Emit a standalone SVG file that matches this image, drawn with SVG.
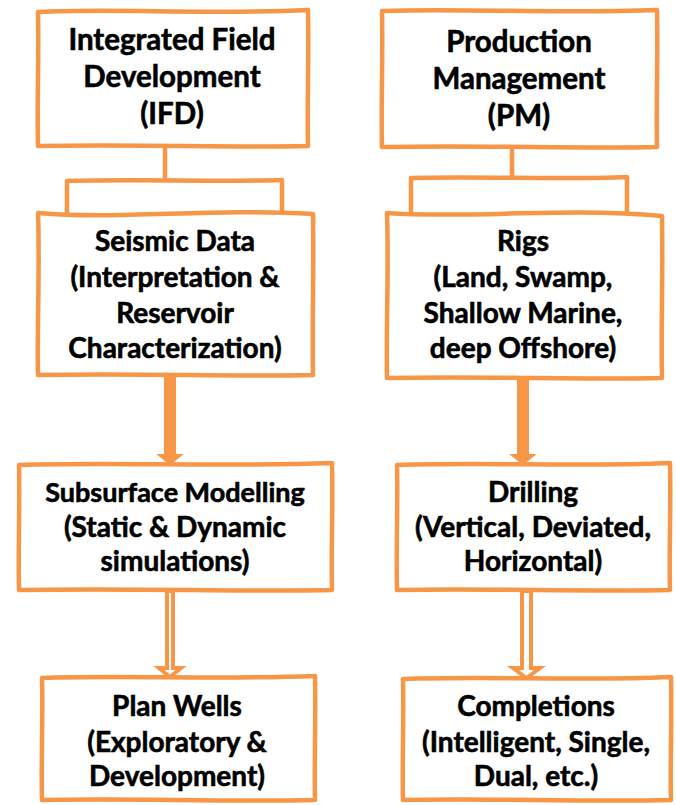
<svg xmlns="http://www.w3.org/2000/svg" width="676" height="805" viewBox="0 0 676 805">
<style>
.box{fill:#fff;stroke:#F79646;stroke-width:4.5;stroke-linejoin:round}
.tab{fill:#fff;stroke:#F79646;stroke-width:4.5;stroke-linejoin:round}
.ln{fill:none;stroke:#F79646;stroke-width:4.5}
.solid{fill:#F79646;stroke:#F79646;stroke-width:2;stroke-linejoin:miter}
.hollow{fill:#fff;stroke:#F79646;stroke-width:4;stroke-linejoin:miter}
.t{font-family:Lato,"Liberation Sans",sans-serif;font-weight:700;font-size:28px;text-anchor:middle;fill:#000;stroke:#000;stroke-width:0.6}
.big{font-size:29.5px}
</style>
<rect width="676" height="805" fill="#fff"/>
<g id="connectors">
<path class="ln" d="M165,146 L165,182"/>
<path class="ln" d="M512,147 L512,179"/>
<path class="solid" d="M165,376 L175,376 L175,455 L181,455 L170,464 L159,455 L165,455 Z"/>
<path class="solid" d="M518,379 L528,379 L528,455 L534,455 L523,464 L512,455 L518,455 Z"/>
<path class="hollow" d="M167,591 L173,591 L173,668 L181,668 L170,677 L159,668 L167,668 Z"/>
<path class="hollow" d="M522,591 L531,591 L531,668 L540,668 L526.5,678 L513,668 L522,668 Z"/>
</g>
<g id="ifd">
<path class="box" d="M38,12 C119,8 200,15 308,10 C309,64 307,105 308,146 C227,148 146,144 38,146 C37,105 39,52 38,12 Z"/>
<text class="t big" x="172" y="50">Integrated Field</text>
<text class="t big" x="172" y="87">Development</text>
<text class="t big" x="172" y="124">(IFD)</text>
</g>
<g id="pm">
<path class="box" d="M382,11 C465,8 548,14 657,10 C658,64 656,106 657,147 C574,149 491,145 382,147 C381,105 383,54 382,11 Z"/>
<text class="t big" x="519" y="52">Production</text>
<text class="t big" x="519" y="89">Management</text>
<text class="t big" x="519" y="126">(PM)</text>
</g>
<g id="seismic">
<path class="tab" d="M67,216 L67,181 C140,179 210,182 282,180 L282,214"/>
<path class="box" d="M38,213 C120,220 210,208 313,214 C314,278 312,320 313,375 C230,377 148,373 38,375 C37,320 40,270 38,213 Z"/>
<text class="t" x="175" y="251">Seismic Data</text>
<text class="t" x="175" y="287">(Interpretation &amp;</text>
<text class="t" x="175" y="323">Reservoir</text>
<text class="t" x="175" y="358">Characterization)</text>
</g>
<g id="rigs">
<path class="tab" d="M411,214 L411,178 C480,176 560,180 627,177 L627,214"/>
<path class="box" d="M387,213 C470,219 560,207 662,216 C663,280 661,325 662,378 C579,380 497,376 387,378 C386,322 389,270 387,213 Z"/>
<text class="t" x="523" y="251">Rigs</text>
<text class="t" x="523" y="287">(Land, Swamp,</text>
<text class="t" x="523" y="323">Shallow Marine,</text>
<text class="t" x="523" y="358">deep Offshore)</text>
</g>
<g id="subsurface">
<path class="box" d="M19,465 C113,462 220,467 332,463 C333,513 331,550 332,590 C238,592 144,588 19,590 C18,550 20,505 19,465 Z"/>
<text class="t" x="175" y="502" style="font-size:27px">Subsurface Modelling</text>
<text class="t" x="175" y="537">(Static &amp; Dynamic</text>
<text class="t" x="175" y="571">simulations)</text>
</g>
<g id="drilling">
<path class="box" d="M397,465 C480,462 580,467 670,463 C671,513 669,550 670,590 C580,592 490,588 397,590 C396,550 398,505 397,465 Z"/>
<text class="t" x="533" y="502">Drilling</text>
<text class="t" x="533" y="537">(Vertical, Deviated,</text>
<text class="t" x="533" y="571">Horizontal)</text>
</g>
<g id="planwells">
<path class="box" d="M42,678 C125,675 220,680 315,676 C316,725 314,765 315,800 C220,802 130,798 42,800 C41,765 43,720 42,678 Z"/>
<text class="t" x="177" y="716">Plan Wells</text>
<text class="t" x="177" y="752">(Exploratory &amp;</text>
<text class="t" x="177" y="786">Development)</text>
</g>
<g id="completions">
<path class="box" d="M403,679 C490,676 580,681 671,677 C672,725 670,765 671,800 C580,802 490,798 403,800 C402,765 404,720 403,679 Z"/>
<text class="t" x="536" y="716">Completions</text>
<text class="t" x="536" y="752">(Intelligent, Single,</text>
<text class="t" x="536" y="786">Dual, etc.)</text>
</g>
</svg>
